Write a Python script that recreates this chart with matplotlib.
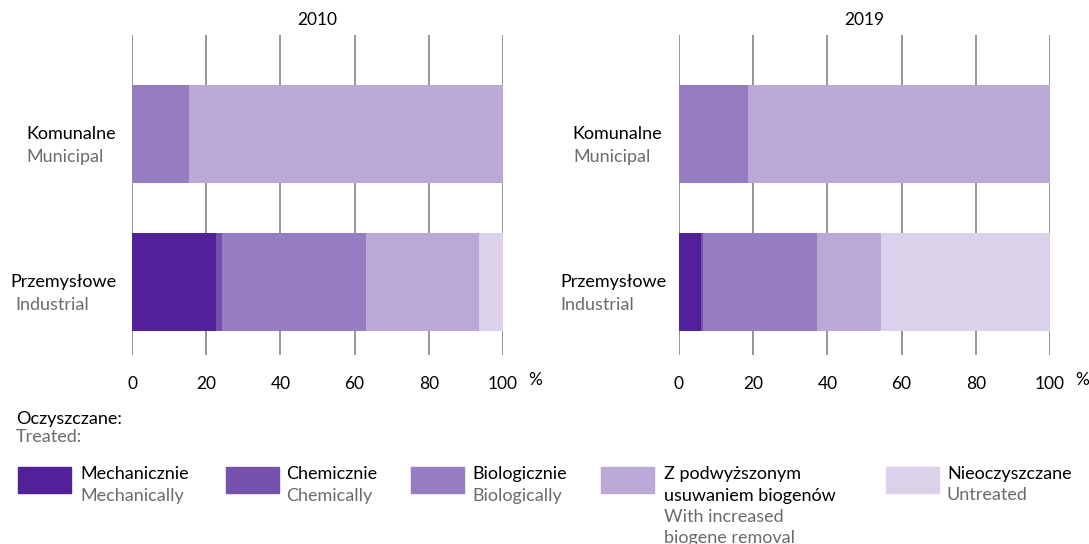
import numpy as np
import matplotlib.pyplot as plt
from matplotlib.patches import Rectangle

plt.rcParams['font.family'] = ['Lato', 'DejaVu Sans']

years = ['2010', '2019']
cats_pl = ['Komunalne', 'Przemysłowe']
cats_en = ['Municipal', 'Industrial']

series_pl = ['Mechanicznie', 'Chemicznie', 'Biologicznie',
             'Z podwyższonym\nusuwaniem biogenów', 'Nieoczyszczane']
series_en = ['Mechanically', 'Chemically', 'Biologically',
             'With increased\nbiogene removal', 'Untreated']
colors = ['#52219a', '#7651ac', '#967cc0', '#baa8d6', '#dbd1ea']

# shares in % : [municipal, industrial]
mech_2010 = [0.0, 22.7]
chem_2010 = [0.0, 1.6]
bio_2010 = [15.4, 38.7]
incr_2010 = [84.6, 30.5]
untr_2010 = [0.0, 6.5]

mech_2019 = [0.0, 5.9]
chem_2019 = [0.0, 0.6]
bio_2019 = [18.6, 30.6]
incr_2019 = [81.4, 17.3]
untr_2019 = [0.0, 45.6]

data = {
    '2010': [mech_2010, chem_2010, bio_2010, incr_2010, untr_2010],
    '2019': [mech_2019, chem_2019, bio_2019, incr_2019, untr_2019],
}

W, H = 1089, 544
fig = plt.figure(figsize=(W / 100, H / 100), dpi=100)

grey_txt = '#6b6b6b'
fs = 12.5
lfs = 13


def fx(px):
    return px / W


def fy(py):
    return 1 - py / H


axes_px = {'2010': 132, '2019': 679}
# (x of PL label, x of EN label) per category
label_x = {'2010': [(26, 26), (10, 15)], '2019': [(572, 573), (560, 560)]}

for yr in years:
    x0 = axes_px[yr]
    ax = fig.add_axes([fx(x0), fy(355), 371 / W, 320 / H])
    ypos = np.arange(len(cats_pl))
    left = np.zeros(len(cats_pl))
    for vals, c in zip(data[yr], colors):
        ax.barh(ypos, vals, left=left, height=0.662, color=c, zorder=3,
                edgecolor='none')
        left += np.array(vals)
    ax.set_xlim(0, 100)
    ax.set_ylim(1.493, -0.669)
    ax.set_xticks(np.arange(0, 101, 20))
    ax.grid(axis='x', color='#8c8c8c', linewidth=1.3, zorder=1)
    ax.tick_params(axis='x', length=0, labelsize=fs, pad=15)
    ax.set_yticks([])
    for s in ax.spines.values():
        s.set_visible(False)
    ax.set_title(yr, fontsize=fs, pad=7)
    fig.text(fx(x0 + 403), fy(380), '%', fontsize=fs, va='center', ha='center')
    # category labels
    for i, (pl, en) in enumerate(zip(cats_pl, cats_en)):
        yc = [134, 282][i]
        px_pl, px_en = label_x[yr][i]
        fig.text(fx(px_pl), fy(yc), pl, fontsize=lfs, va='center', ha='left')
        fig.text(fx(px_en), fy(yc + 23), en, fontsize=lfs, va='center',
                 ha='left', color=grey_txt)

fig.text(fx(16), fy(419), 'Oczyszczane:', fontsize=lfs, va='center', ha='left')
fig.text(fx(16), fy(437), 'Treated:', fontsize=lfs, va='center', ha='left',
         color=grey_txt)

patch_x = [18, 226, 411, 601, 886]
text_x = [80, 286, 472, 664, 947]
for i in range(5):
    fig.patches.append(Rectangle((fx(patch_x[i]), fy(493)), 53 / W, 26 / H,
                                 transform=fig.transFigure, color=colors[i]))
    lines = series_pl[i].split('\n')
    lines_en = series_en[i].split('\n')
    y = 474
    for ln in lines:
        fig.text(fx(text_x[i]), fy(y), ln, fontsize=lfs, va='center', ha='left')
        y += 21.5
    for ln in lines_en:
        fig.text(fx(text_x[i]), fy(y), ln, fontsize=lfs, va='center', ha='left',
                 color=grey_txt)
        y += 21.5

fig.savefig('out.png', dpi=100)
